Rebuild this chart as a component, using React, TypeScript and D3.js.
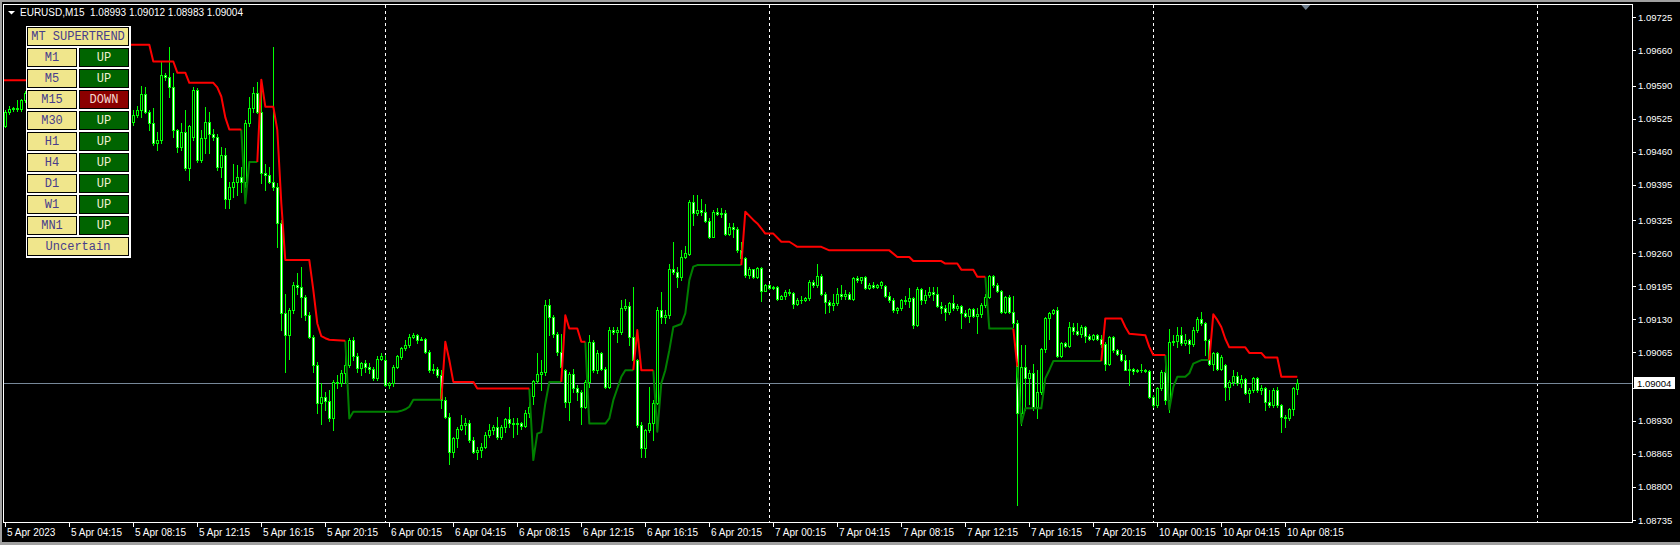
import React from 'react';
import * as d3 from 'd3';

const W = 1680;
const H = 545;

// EURUSD M15, bar 0 = 5 Apr 2023 00:00 (weekend skipped after 7 Apr)
const opens = [
  1.09515,1.09510,1.09539,1.09545,1.09547,1.09544,1.09562,1.09575,1.09570,1.09585,
  1.09600,1.09592,1.09610,1.09625,1.09618,1.09640,1.09655,1.09648,1.09660,1.09645,
  1.09630,1.09612,1.09600,1.09588,1.09595,1.09580,1.09566,1.09570,1.09555,1.09548,
  1.09540,1.09532,1.09525,1.09519,1.09533,1.09542,1.09573,1.09539,1.09516,1.09477,
  1.09483,1.09611,1.09608,1.09587,1.09503,1.09470,1.09500,1.09428,1.09490,1.09582,
  1.09444,1.09487,1.09519,1.09496,1.09489,1.09431,1.09454,1.09368,1.09391,1.09400,
  1.09411,1.09400,1.09516,1.09546,1.09575,1.09539,1.09418,1.09414,1.09401,1.09391,
  1.09319,1.09142,1.09099,1.09149,1.09198,1.09193,1.09175,1.09139,1.09096,1.09040,
  1.08965,1.08978,1.08970,1.08935,1.09007,1.09005,1.09024,1.09040,1.09089,1.09057,
  1.09034,1.09044,1.09036,1.09032,1.09014,1.09053,1.09050,1.09001,1.09004,1.09037,
  1.09056,1.09073,1.09079,1.09096,1.09100,1.09090,1.09092,1.09066,1.09030,1.09033,
  1.09020,1.08971,1.08938,1.08869,1.08896,1.08915,1.08922,1.08927,1.08892,1.08869,
  1.08873,1.08878,1.08902,1.08912,1.08918,1.08899,1.08918,1.08933,1.08927,1.08925,
  1.08927,1.08920,1.08946,1.08980,1.09008,1.09023,1.09027,1.09159,1.09135,1.09102,
  1.09066,1.09030,1.08968,1.09023,1.08994,1.08987,1.08958,1.09007,1.09086,1.09030,
  1.09063,1.09033,1.08997,1.09110,1.09106,1.09106,1.09152,1.09156,1.09096,1.09050,
  1.08922,1.08876,1.08912,1.08926,1.08966,1.09148,1.09135,1.09138,1.09230,1.09224,
  1.09214,1.09252,1.09258,1.09362,1.09339,1.09345,1.09342,1.09324,1.09293,1.09341,
  1.09337,1.09340,1.09299,1.09312,1.09309,1.09266,1.09250,1.09217,1.09229,1.09213,
  1.09232,1.09186,1.09198,1.09191,1.09193,1.09171,1.09177,1.09184,1.09182,1.09161,
  1.09169,1.09168,1.09173,1.09204,1.09198,1.09216,1.09181,1.09165,1.09158,1.09163,
  1.09180,1.09177,1.09180,1.09171,1.09211,1.09207,1.09213,1.09191,1.09198,1.09194,
  1.09198,1.09196,1.09176,1.09168,1.09148,1.09152,1.09169,1.09167,1.09173,1.09119,
  1.09190,1.09168,1.09179,1.09184,1.09180,1.09156,1.09153,1.09145,1.09163,1.09152,
  1.09156,1.09143,1.09136,1.09150,1.09136,1.09140,1.09158,1.09175,1.09215,1.09198,
  1.09186,1.09145,1.09175,1.09145,1.09122,1.08946,1.09037,1.09014,1.09024,1.08958,
  1.08987,1.09071,1.09132,1.09142,1.09148,1.09058,1.09084,1.09077,1.09115,1.09108,
  1.09102,1.09115,1.09097,1.09092,1.09099,1.09092,1.09081,1.09043,1.09096,1.09069,
  1.09062,1.09051,1.09031,1.09033,1.09029,1.09030,1.09031,1.09029,1.08978,1.08961,
  1.08994,1.09027,1.08971,1.09086,1.09088,1.09099,1.09083,1.09089,1.09081,1.09109,
  1.09130,1.09122,1.09089,1.09043,1.09063,1.09033,1.09040,1.08997,1.09007,1.09018,
  1.09005,1.09012,1.08985,1.08992,1.09014,1.08991,1.08994,1.08968,1.08961,1.08991,
  1.08961,1.08938,1.08935,1.08953,1.08993,
];

const highs = [
  1.09520,1.09542,1.09550,1.09549,1.09562,1.09565,1.09579,1.09584,1.09592,1.09606,
  1.09610,1.09618,1.09632,1.09630,1.09646,1.09662,1.09660,1.09668,1.09665,1.09650,
  1.09636,1.09618,1.09605,1.09602,1.09600,1.09586,1.09578,1.09575,1.09560,1.09555,
  1.09546,1.09538,1.09530,1.09542,1.09550,1.09590,1.09588,1.09542,1.09546,1.09500,
  1.09638,1.09615,1.09667,1.09615,1.09505,1.09516,1.09542,1.09513,1.09588,1.09585,
  1.09503,1.09549,1.09539,1.09506,1.09496,1.09470,1.09467,1.09401,1.09437,1.09434,
  1.09430,1.09523,1.09569,1.09588,1.09598,1.09598,1.09437,1.09431,1.09667,1.09398,
  1.09326,1.09181,1.09152,1.09204,1.09221,1.09234,1.09178,1.09145,1.09099,1.09047,
  1.09004,1.08988,1.08991,1.09011,1.09020,1.09030,1.09086,1.09093,1.09096,1.09063,
  1.09047,1.09050,1.09044,1.09037,1.09057,1.09063,1.09060,1.09007,1.09040,1.09060,
  1.09076,1.09089,1.09102,1.09104,1.09102,1.09096,1.09094,1.09069,1.09043,1.09037,
  1.09030,1.08978,1.08945,1.08899,1.08918,1.08941,1.08935,1.08932,1.08899,1.08879,
  1.08886,1.08909,1.08925,1.08922,1.08938,1.08922,1.08935,1.08958,1.08935,1.08935,
  1.08928,1.08951,1.08971,1.09010,1.09063,1.09050,1.09168,1.09171,1.09138,1.09106,
  1.09102,1.09033,1.09027,1.09033,1.09001,1.08991,1.09010,1.09099,1.09089,1.09069,
  1.09066,1.09037,1.09115,1.09115,1.09115,1.09168,1.09171,1.09165,1.09194,1.09053,
  1.08928,1.08915,1.08997,1.08971,1.09155,1.09184,1.09148,1.09240,1.09283,1.09234,
  1.09266,1.09274,1.09365,1.09375,1.09375,1.09368,1.09358,1.09329,1.09345,1.09349,
  1.09349,1.09345,1.09319,1.09319,1.09312,1.09283,1.09253,1.09234,1.09230,1.09234,
  1.09234,1.09199,1.09200,1.09196,1.09196,1.09178,1.09188,1.09189,1.09184,1.09173,
  1.09176,1.09175,1.09207,1.09207,1.09240,1.09219,1.09184,1.09168,1.09181,1.09191,
  1.09198,1.09188,1.09184,1.09214,1.09215,1.09214,1.09216,1.09201,1.09204,1.09199,
  1.09205,1.09198,1.09184,1.09173,1.09155,1.09171,1.09176,1.09191,1.09175,1.09193,
  1.09191,1.09188,1.09194,1.09194,1.09194,1.09165,1.09158,1.09165,1.09178,1.09161,
  1.09158,1.09148,1.09153,1.09152,1.09152,1.09163,1.09181,1.09217,1.09217,1.09201,
  1.09188,1.09176,1.09178,1.09176,1.09129,1.09079,1.09079,1.09030,1.09043,1.09030,
  1.09073,1.09135,1.09145,1.09150,1.09155,1.09086,1.09086,1.09125,1.09122,1.09122,
  1.09119,1.09117,1.09102,1.09102,1.09102,1.09099,1.09086,1.09097,1.09097,1.09071,
  1.09069,1.09060,1.09051,1.09035,1.09032,1.09043,1.09032,1.09031,1.08981,1.08997,
  1.09030,1.09056,1.09112,1.09099,1.09115,1.09115,1.09102,1.09092,1.09115,1.09135,
  1.09145,1.09125,1.09092,1.09066,1.09066,1.09060,1.09043,1.09010,1.09030,1.09027,
  1.09020,1.09014,1.08994,1.09017,1.09016,1.09001,1.08997,1.08991,1.08994,1.08997,
  1.08964,1.08941,1.08955,1.08997,1.09012,
];

const lows = [
  1.09505,1.09508,1.09534,1.09540,1.09540,1.09540,1.09558,1.09562,1.09565,1.09580,
  1.09586,1.09588,1.09604,1.09612,1.09614,1.09635,1.09640,1.09642,1.09638,1.09622,
  1.09606,1.09592,1.09580,1.09582,1.09574,1.09560,1.09558,1.09548,1.09540,1.09532,
  1.09526,1.09518,1.09512,1.09513,1.09528,1.09528,1.09536,1.09503,1.09474,1.09464,
  1.09477,1.09602,1.09569,1.09490,1.09460,1.09464,1.09424,1.09405,1.09483,1.09441,
  1.09441,1.09457,1.09457,1.09483,1.09424,1.09411,1.09349,1.09349,1.09372,1.09375,
  1.09380,1.09391,1.09510,1.09539,1.09536,1.09398,1.09385,1.09398,1.09385,1.09273,
  1.09109,1.09027,1.09053,1.09142,1.09181,1.09135,1.09129,1.09093,1.09027,1.08945,
  1.08925,1.08952,1.08929,1.08912,1.08994,1.08998,1.09004,1.09037,1.09050,1.09027,
  1.09020,1.09027,1.09024,1.09011,1.09011,1.09050,1.08998,1.08994,1.08999,1.09034,
  1.09053,1.09069,1.09076,1.09094,1.09083,1.09089,1.09064,1.09027,1.09024,1.09017,
  1.08955,1.08935,1.08846,1.08859,1.08879,1.08912,1.08905,1.08889,1.08866,1.08856,
  1.08859,1.08876,1.08899,1.08905,1.08895,1.08895,1.08909,1.08918,1.08899,1.08905,
  1.08915,1.08918,1.08938,1.08964,1.09004,1.08991,1.09020,1.09099,1.09096,1.09060,
  1.09010,1.08958,1.08932,1.08987,1.08971,1.08925,1.08955,1.08997,1.09027,1.09024,
  1.09030,1.08994,1.08994,1.09102,1.09086,1.09102,1.09148,1.09079,1.09046,1.08918,
  1.08859,1.08859,1.08909,1.08892,1.08964,1.09122,1.09122,1.09132,1.09220,1.09194,
  1.09207,1.09250,1.09257,1.09316,1.09335,1.09335,1.09322,1.09290,1.09293,1.09335,
  1.09332,1.09296,1.09296,1.09293,1.09263,1.09247,1.09214,1.09211,1.09211,1.09211,
  1.09167,1.09186,1.09189,1.09189,1.09169,1.09170,1.09171,1.09178,1.09152,1.09158,
  1.09163,1.09167,1.09169,1.09194,1.09194,1.09178,1.09142,1.09145,1.09148,1.09158,
  1.09171,1.09171,1.09170,1.09168,1.09204,1.09201,1.09189,1.09189,1.09191,1.09192,
  1.09191,1.09175,1.09165,1.09145,1.09142,1.09148,1.09161,1.09155,1.09113,1.09117,
  1.09161,1.09163,1.09175,1.09168,1.09155,1.09142,1.09129,1.09140,1.09148,1.09148,
  1.09114,1.09134,1.09125,1.09135,1.09104,1.09135,1.09155,1.09172,1.09194,1.09184,
  1.09142,1.09142,1.09142,1.09115,1.08764,1.08922,1.08951,1.08964,1.08951,1.08935,
  1.08984,1.09066,1.09092,1.09140,1.09056,1.09056,1.09076,1.09076,1.09102,1.09099,
  1.09096,1.09086,1.09089,1.09090,1.09089,1.09076,1.09030,1.09040,1.09066,1.09060,
  1.09049,1.09030,1.09001,1.09022,1.09027,1.09027,1.09027,1.08976,1.08958,1.08958,
  1.08991,1.08964,1.08948,1.09079,1.09076,1.09079,1.09079,1.09063,1.09077,1.09106,
  1.09119,1.09060,1.09040,1.09030,1.09030,1.09030,1.08971,1.08974,1.09001,1.09001,
  1.08997,1.08984,1.08968,1.08987,1.08987,1.08984,1.08951,1.08958,1.08958,1.08958,
  1.08909,1.08918,1.08932,1.08941,1.08983,
];

const closes = [
  1.09510,1.09539,1.09545,1.09547,1.09544,1.09562,1.09575,1.09570,1.09585,1.09600,
  1.09592,1.09610,1.09625,1.09618,1.09640,1.09655,1.09648,1.09660,1.09645,1.09630,
  1.09612,1.09600,1.09588,1.09595,1.09580,1.09566,1.09570,1.09555,1.09548,1.09540,
  1.09532,1.09525,1.09519,1.09533,1.09542,1.09573,1.09539,1.09516,1.09477,1.09483,
  1.09611,1.09608,1.09587,1.09503,1.09470,1.09500,1.09428,1.09510,1.09582,1.09444,
  1.09487,1.09519,1.09496,1.09489,1.09431,1.09454,1.09368,1.09391,1.09400,1.09411,
  1.09400,1.09516,1.09546,1.09575,1.09539,1.09418,1.09414,1.09401,1.09391,1.09319,
  1.09142,1.09099,1.09149,1.09198,1.09193,1.09175,1.09139,1.09096,1.09040,1.08965,
  1.08978,1.08970,1.08935,1.09007,1.09005,1.09024,1.09040,1.09089,1.09057,1.09034,
  1.09044,1.09036,1.09032,1.09014,1.09053,1.09057,1.09001,1.09004,1.09037,1.09057,
  1.09073,1.09079,1.09096,1.09100,1.09090,1.09092,1.09066,1.09030,1.09033,1.09020,
  1.08971,1.08938,1.08869,1.08896,1.08915,1.08922,1.08927,1.08892,1.08869,1.08873,
  1.08878,1.08902,1.08912,1.08918,1.08899,1.08918,1.08933,1.08927,1.08925,1.08927,
  1.08920,1.08946,1.08958,1.09008,1.09023,1.09027,1.09159,1.09135,1.09102,1.09066,
  1.09037,1.08968,1.09023,1.08994,1.08987,1.08958,1.09007,1.09086,1.09030,1.09063,
  1.09033,1.08997,1.09110,1.09106,1.09109,1.09152,1.09156,1.09096,1.09050,1.08922,
  1.08876,1.08912,1.08926,1.08966,1.09148,1.09135,1.09138,1.09230,1.09224,1.09214,
  1.09252,1.09260,1.09362,1.09339,1.09345,1.09342,1.09324,1.09293,1.09341,1.09337,
  1.09340,1.09299,1.09312,1.09309,1.09266,1.09250,1.09217,1.09229,1.09213,1.09232,
  1.09186,1.09198,1.09191,1.09193,1.09171,1.09177,1.09184,1.09182,1.09161,1.09169,
  1.09168,1.09173,1.09204,1.09198,1.09216,1.09181,1.09165,1.09158,1.09163,1.09180,
  1.09177,1.09180,1.09171,1.09211,1.09207,1.09213,1.09191,1.09198,1.09194,1.09198,
  1.09204,1.09176,1.09168,1.09148,1.09152,1.09169,1.09167,1.09173,1.09119,1.09190,
  1.09168,1.09179,1.09184,1.09180,1.09156,1.09153,1.09145,1.09163,1.09152,1.09156,
  1.09143,1.09136,1.09150,1.09136,1.09140,1.09158,1.09175,1.09215,1.09198,1.09186,
  1.09145,1.09175,1.09145,1.09122,1.08946,1.09037,1.09014,1.09024,1.08958,1.08987,
  1.09071,1.09132,1.09142,1.09148,1.09058,1.09084,1.09077,1.09115,1.09108,1.09102,
  1.09115,1.09097,1.09092,1.09099,1.09092,1.09081,1.09043,1.09096,1.09069,1.09062,
  1.09051,1.09031,1.09033,1.09029,1.09030,1.09031,1.09029,1.08978,1.08961,1.08994,
  1.09027,1.08971,1.09086,1.09088,1.09099,1.09083,1.09089,1.09081,1.09109,1.09130,
  1.09122,1.09089,1.09043,1.09063,1.09033,1.09056,1.08997,1.09007,1.09018,1.09005,
  1.09012,1.08985,1.08992,1.09014,1.08991,1.08994,1.08968,1.08961,1.08991,1.08961,
  1.08938,1.08935,1.08953,1.08994,1.09004,
];

// supertrend as [bar, price] runs
const redTrend: [number, number][][] = [
  [[0, 1.09601], [8, 1.09601]],
  [[20, 1.09671], [37, 1.09671], [38, 1.09638], [43, 1.09638], [44, 1.09616], [46, 1.09616], [47, 1.09596], [53, 1.09596], [54, 1.09587], [55, 1.09569], [56, 1.09528], [57, 1.09504], [60, 1.09504]],
  [[64, 1.09440], [65, 1.09602], [66, 1.09549], [68, 1.09549], [69, 1.09503], [70, 1.09359], [71, 1.09247], [77, 1.09247], [78, 1.09188], [79, 1.09122], [80, 1.09097], [81, 1.09093], [82, 1.09090], [86, 1.09088]],
  [[110, 1.08972], [111, 1.09086], [112, 1.09050], [113, 1.09007], [118, 1.09007], [119, 1.08994], [132, 1.08994]],
  [[140, 1.09007], [141, 1.09138], [142, 1.09112], [144, 1.09112], [145, 1.09086], [146, 1.09086]],
  [[158, 1.09030], [159, 1.09109], [160, 1.09030], [163, 1.09030]],
  [[185, 1.09237], [186, 1.09342], [188, 1.09326], [189, 1.09319], [191, 1.09299], [193, 1.09299], [195, 1.09283], [197, 1.09283], [198, 1.09278], [199, 1.09273], [205, 1.09273], [207, 1.09266], [222, 1.09266], [224, 1.09253], [227, 1.09253], [228, 1.09245], [235, 1.09245], [236, 1.09240], [239, 1.09240], [240, 1.09228], [243, 1.09228], [244, 1.09214], [246, 1.09214]],
  [[253, 1.09112], [254, 1.09037]],
  [[275, 1.09048], [276, 1.09132], [280, 1.09132], [281, 1.09115], [282, 1.09102], [286, 1.09099], [287, 1.09076], [288, 1.09060], [291, 1.09060]],
  [[302, 1.09050], [303, 1.09140], [304, 1.09129], [305, 1.09115], [306, 1.09092], [307, 1.09075], [311, 1.09075], [312, 1.09064], [315, 1.09064], [316, 1.09055], [319, 1.09055], [320, 1.09017], [324, 1.09017]],
];

const greenTrend: [number, number][][] = [
  [[60, 1.09504], [61, 1.09359], [62, 1.09440], [64, 1.09440]],
  [[86, 1.09088], [87, 1.08935], [88, 1.08948], [99, 1.08948], [100, 1.08950], [101, 1.08953], [102, 1.08958], [103, 1.08972], [110, 1.08972]],
  [[132, 1.08994], [133, 1.08853], [134, 1.08905], [135, 1.08908], [136, 1.08964], [137, 1.09007], [140, 1.09007]],
  [[146, 1.09086], [147, 1.08925], [151, 1.08925], [152, 1.08935], [153, 1.08971], [154, 1.08994], [155, 1.09017], [156, 1.09030], [158, 1.09030]],
  [[163, 1.09030], [164, 1.08909], [165, 1.09004], [166, 1.09030], [167, 1.09069], [168, 1.09115], [170, 1.09121], [171, 1.09142], [172, 1.09207], [173, 1.09234], [174, 1.09237], [185, 1.09237]],
  [[246, 1.09214], [247, 1.09112], [253, 1.09112]],
  [[254, 1.09037], [255, 1.08925], [256, 1.08955], [260, 1.08955], [261, 1.09014], [262, 1.09030], [263, 1.09048], [275, 1.09048]],
  [[291, 1.09060], [292, 1.08953], [293, 1.08997], [294, 1.09017], [296, 1.09017], [297, 1.09024], [298, 1.09043], [300, 1.09050], [302, 1.09050]],
];

// 1.08995 sits under the bid label in the original, only its tick shows
const priceTicks = [
  1.09725, 1.09660, 1.09590, 1.09525, 1.09460, 1.09395, 1.09325, 1.09260,
  1.09195, 1.09130, 1.09065, 1.08995, 1.08930, 1.08865, 1.08800, 1.08735,
];

const timeLabelBars = [1, 17, 33, 49, 65, 81, 97, 113, 129, 145, 161, 177, 193, 209, 225, 241, 257, 273, 289, 305, 321];
const timeLabels = [
  '5 Apr 2023', '5 Apr 04:15', '5 Apr 08:15', '5 Apr 12:15', '5 Apr 16:15', '5 Apr 20:15',
  '6 Apr 00:15', '6 Apr 04:15', '6 Apr 08:15', '6 Apr 12:15', '6 Apr 16:15', '6 Apr 20:15',
  '7 Apr 00:15', '7 Apr 04:15', '7 Apr 08:15', '7 Apr 12:15', '7 Apr 16:15', '7 Apr 20:15',
  '10 Apr 00:15', '10 Apr 04:15', '10 Apr 08:15',
];

const daySeparatorBars = [96, 192, 288, 384];

const timeframes = ['M1', 'M5', 'M15', 'M30', 'H1', 'H4', 'D1', 'W1', 'MN1'];
const tfTrend = ['UP', 'UP', 'DOWN', 'UP', 'UP', 'UP', 'UP', 'UP', 'UP'];
const verdict = 'Uncertain';

const LIME = '#00ff00';
const FONT = "'Liberation Sans', Arial, sans-serif";
const MONO = "'Liberation Mono', 'DejaVu Sans Mono', monospace";

export default function App() {
  const n = closes.length;

  // 4 px per bar
  const x = d3.scaleLinear().domain([0, 1]).range([1.3, 5.3]);
  const y = d3.scaleLinear().domain([1.08735, 1.09725]).range([520, 17.3]);

  const col = (i: number) => Math.floor(x(i));
  const py = (v: number) => Math.round(y(v));

  const line = d3.line<[number, number]>().x((d) => x(d[0])).y((d) => y(d[1]));

  const last = n - 1;
  const cp = closes[last];
  const cpY = py(cp) + 0.5;

  const plotL = 4, plotT = 5, plotR = 1632, plotB = 522;

  return (
    <svg width={W} height={H} style={{ position: 'absolute', left: 0, top: 0, display: 'block' }} fontFamily={FONT}>
      <rect width={W} height={H} fill="#000" />
      {/* window edges */}
      <rect x={0} y={0} width={W} height={2} fill="#a0a0a0" />
      <rect x={0} y={0} width={2} height={H} fill="#a0a0a0" />
      <rect x={0} y={542} width={W} height={3} fill="#a0a0a0" />

      <defs>
        <clipPath id="plot">
          <rect x={plotL} y={plotT} width={plotR - plotL} height={plotB - plotT} />
        </clipPath>
      </defs>

      <g clipPath="url(#plot)" shapeRendering="crispEdges">
        {daySeparatorBars.map((b) => (
          <line key={b} x1={col(b) + 0.5} x2={col(b) + 0.5} y1={plotT} y2={plotB} stroke="#fff" strokeDasharray="3,3" />
        ))}
        <line x1={plotL} x2={plotR} y1={cpY} y2={cpY} stroke="#778899" />

        {closes.map((c, i) => {
          const o = opens[i];
          const hi = Math.max(highs[i], o, c);
          const lo = Math.min(lows[i], o, c);
          const cx = col(i);
          const top = py(Math.max(o, c));
          const bot = py(Math.min(o, c));
          return (
            <g key={i}>
              <line x1={cx + 0.5} x2={cx + 0.5} y1={py(hi)} y2={py(lo) + 1} stroke={LIME} />
              {bot - top >= 2 ? (
                <rect x={cx - 0.5} y={top + 0.5} width={2} height={bot - top} fill={c >= o ? '#000' : '#fff'} stroke={LIME} />
              ) : (
                <rect x={cx - 1} y={top} width={3} height={bot - top + 1} fill={LIME} />
              )}
            </g>
          );
        })}
      </g>

      <g clipPath="url(#plot)">
        {greenTrend.map((seg, k) => (
          <path key={'g' + k} d={line(seg) || ''} fill="none" stroke="#008000" strokeWidth={2} strokeLinejoin="round" />
        ))}
        {redTrend.map((seg, k) => (
          <path key={'r' + k} d={line(seg) || ''} fill="none" stroke="#ff0000" strokeWidth={2} strokeLinejoin="round" />
        ))}
      </g>

      {/* frame */}
      <rect x={plotL - 0.5} y={plotT - 0.5} width={plotR - plotL + 1} height={plotB - plotT + 1} fill="none" stroke="#fff" shapeRendering="crispEdges" />

      {/* chart shift marker */}
      <polygon points={`${x(n)},5 ${x(n) + 9},5 ${x(n) + 4.5},10`} fill="#708090" />

      {/* price axis */}
      <g fontSize={9.5} fill="#fff">
        {priceTicks.map((v) => (
          <g key={v}>
            <line x1={plotR + 1} x2={plotR + 4} y1={py(v) + 0.5} y2={py(v) + 0.5} stroke="#fff" shapeRendering="crispEdges" />
            {Math.abs(y(v) - cpY) > 9 && (
              <text x={1638} y={y(v)} dominantBaseline="central">{v.toFixed(5)}</text>
            )}
          </g>
        ))}
        <rect x={1634} y={cpY - 6.5} width={41} height={12} fill="#fff" />
        <text x={1637} y={cpY} dominantBaseline="central" fill="#000">{cp.toFixed(5)}</text>
      </g>

      {/* time axis */}
      <g fontSize={10} fill="#fff">
        {timeLabelBars.map((b, k) => (
          <g key={b}>
            <line x1={col(b) + 0.5} x2={col(b) + 0.5} y1={plotB + 1} y2={plotB + 5} stroke="#fff" shapeRendering="crispEdges" />
            <text x={col(b) + 2} y={536}>{timeLabels[k]}</text>
          </g>
        ))}
      </g>

      {/* header */}
      <polygon points="8,11 15,11 11.5,14.5" fill="#fff" />
      <text x={20} y={16} fontSize={10} fill="#fff" style={{ whiteSpace: 'pre' }}>
        {`EURUSD,M15  ${opens[last].toFixed(5)} ${highs[last].toFixed(5)} ${lows[last].toFixed(5)} ${cp.toFixed(5)}`}
      </text>

      {/* MT SUPERTREND panel */}
      <g fontFamily={MONO} fontSize={12} shapeRendering="crispEdges">
        <rect x={26} y={26} width={105} height={232} fill="#fff" />
        <rect x={27.5} y={27.5} width={101} height={18} fill="#f0e68c" stroke="#000" />
        <text x={78} y={37} textAnchor="middle" dominantBaseline="central" fill="#483d8b">MT SUPERTREND</text>
        {timeframes.map((tf, k) => {
          const ty = 48 + k * 21;
          const down = tfTrend[k] === 'DOWN';
          return (
            <g key={tf}>
              <rect x={27.5} y={ty + 0.5} width={49} height={18} fill="#f0e68c" stroke="#000" />
              <text x={52} y={ty + 10} textAnchor="middle" dominantBaseline="central" fill="#483d8b">{tf}</text>
              <rect x={79.5} y={ty + 0.5} width={49} height={18} fill={down ? '#8b0000' : '#006400'} stroke="#000" />
              <text x={104} y={ty + 10} textAnchor="middle" dominantBaseline="central" fill={down ? '#f4d8d0' : '#f0f0d0'}>{tfTrend[k]}</text>
            </g>
          );
        })}
        <rect x={27.5} y={237.5} width={101} height={18} fill="#f0e68c" stroke="#000" />
        <text x={78} y={247} textAnchor="middle" dominantBaseline="central" fill="#483d8b">{verdict}</text>
      </g>
    </svg>
  );
}
